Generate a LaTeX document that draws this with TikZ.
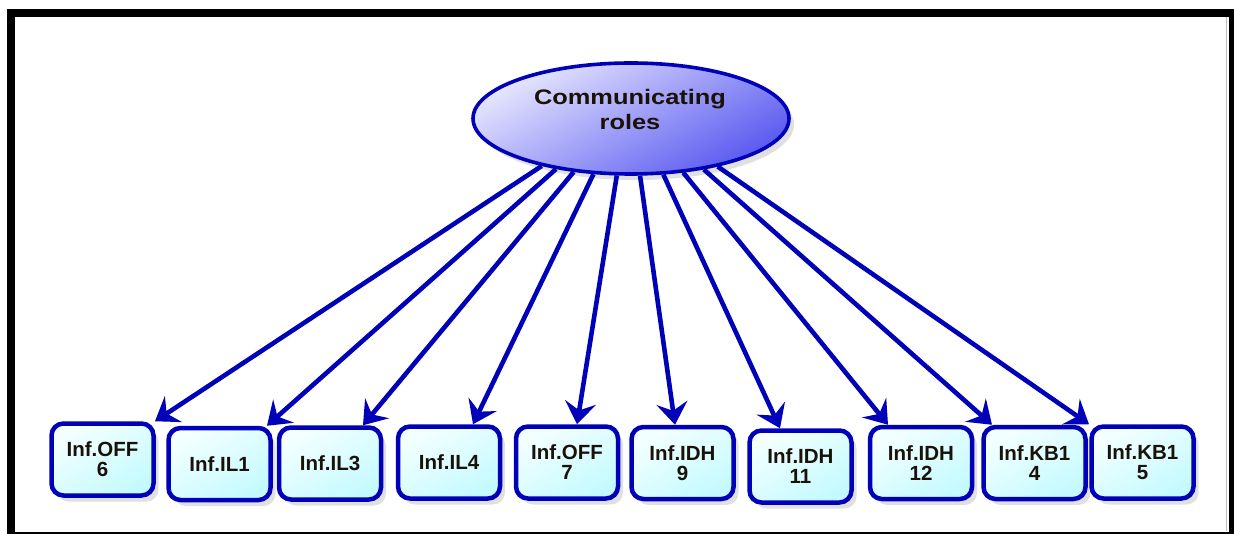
\documentclass[tikz,border=0pt]{standalone}
\usepackage{fontspec}
\setmainfont{Liberation Sans}
\newfontfamily\widefont[FakeStretch=1.21]{Liberation Sans}
\usetikzlibrary{arrows.meta,shapes.geometric,shadows}
\definecolor{edgeblue}{HTML}{0000B8}
\definecolor{ellight}{HTML}{E6E6FF}
\definecolor{eldark}{HTML}{5A5AF0}
\definecolor{boxlight}{HTML}{F4FFFF}
\definecolor{boxdark}{HTML}{C4FAFF}
\definecolor{textdark}{HTML}{1A1208}
\begin{document}
\begin{tikzpicture}[x=1pt,y=-1pt,
  softshadow/.style={drop shadow={shadow xshift=5pt,shadow yshift=-6pt,opacity=0.12,fill=black}},
  rolebox/.style={rectangle,rounded corners=12pt,draw=edgeblue,line width=4.5pt,
    minimum width=102pt,minimum height=72pt,inner sep=0pt,
    top color=boxlight,bottom color=boxdark,shading angle=30,softshadow,
    font=\bfseries\fontsize{20.5}{20}\selectfont,align=center,text=textdark},
  link/.style={draw=edgeblue,line width=4.6pt,-{Stealth[length=22pt,width=31pt,inset=8pt]}}]
\useasboundingbox (0,0) rectangle (1234,534);
\fill[white] (0,0) rectangle (1234,534);
% frame
\fill[black] (7,9) rectangle (1234,17);
\fill[black] (7,9) rectangle (15,534);
\fill[black] (1229,9) rectangle (1234,534);
\fill[black] (7,531.5) rectangle (1234,533.5);
\draw[black!25,line width=0.8pt] (1226.5,17) -- (1226.5,531);
% central ellipse
\node[ellipse,draw=edgeblue,line width=3.6pt,minimum width=316pt,minimum height=111pt,
  inner sep=0pt,top color=ellight,bottom color=eldark,shading angle=30,softshadow] (top) at (631,118.5) {};
\node[font=\widefont\bfseries\fontsize{21}{25}\selectfont,align=center,text=textdark] (toplabel) at (630,109) {Communicating\\roles};
% boxes
\node[rolebox] (b1) at (102.5,459.5) {Inf.OFF\\6};
\node[rolebox] (b2) at (219.5,464) {Inf.IL1};
\node[rolebox] (b3) at (330,463.5) {Inf.IL3};
\node[rolebox] (b4) at (449,462.5) {Inf.IL4};
\node[rolebox] (b5) at (567,462.5) {Inf.OFF\\7};
\node[rolebox] (b6) at (682.5,463) {Inf.IDH\\9};
\node[rolebox] (b7) at (800.5,466.5) {Inf.IDH\\11};
\node[rolebox] (b8) at (921,463) {Inf.IDH\\12};
\node[rolebox] (b9) at (1034.5,463) {Inf.KB1\\4};
\node[rolebox] (b10) at (1142.5,462.5) {Inf.KB1\\5};
% connectors
\draw[link] (top.208.1) -- ([xshift=52.5pt]b1.north);
\draw[link] (top.214.5) -- ([xshift=47.5pt]b2.north);
\draw[link] (top.223.4) -- ([xshift=33pt]b3.north);
\draw[link] (top.236.8) -- ([xshift=24pt]b4.north);
\draw[link] (top.256.0) -- ([xshift=10pt]b5.north);
\draw[link] (top.279.1) -- ([xshift=-7.5pt]b6.north);
\draw[link] (top.300.0) -- ([xshift=-20.5pt]b7.north);
\draw[link] (top.314.2) -- ([xshift=-33pt]b8.north);
\draw[link] (top.325.0) -- ([xshift=-42.5pt]b9.north);
\draw[link] (top.331.5) -- ([xshift=-53.5pt]b10.north);
\end{tikzpicture}
\end{document}
